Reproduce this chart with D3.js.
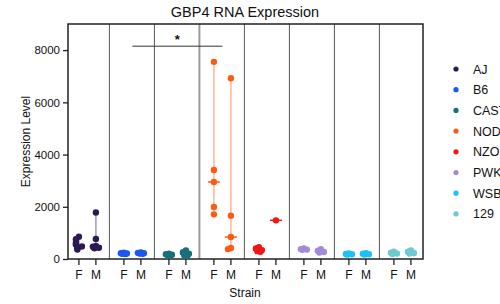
<!DOCTYPE html>
<html>
<head>
<meta charset="utf-8">
<script src="https://cdn.jsdelivr.net/npm/d3@7"></script>
<style>
  body { margin: 0; background: #fff; }
  text { font-family: "Liberation Sans", Arial, sans-serif; fill: #111; }
</style>
</head>
<body>
<svg id="chart" width="500" height="304"></svg>
<script>
// strains and their colours
var strains = ["AJ", "B6", "CAST", "NOD", "NZO", "PWK", "WSB", "129"];
var colors = ["#2c1a55", "#1d57f0", "#17707a", "#ff5a12", "#f21414", "#a38ad6", "#1ec0f7", "#6fc9d0"];
var sexes = ["F", "M"];

// expression values, per strain: [female, male]
var ajValues = [[850, 760, 620, 560, 480, 440, 400, 360], [1780, 770, 500, 470, 430, 410]];
var b6Values = [[240, 220, 210, 200, 190], [250, 235, 220, 210, 200]];
var castValues = [[200, 180, 160, 150, 140], [330, 260, 200, 160, 130, 120]];
var nodValues = [[7550, 3410, 2950, 1990, 1710], [6920, 1660, 840, 420, 380]];
var nzoValues = [[450, 400, 340, 300, 280], [1480]];
var pwkValues = [[400, 380, 360, 350], [380, 320, 270, 250]];
var wsbValues = [[210, 190, 180, 170], [220, 200, 180, 170]];
var s129Values = [[280, 240, 210, 190], [330, 280, 230, 210]];
var allValues = [ajValues, b6Values, castValues, nodValues, nzoValues, pwkValues, wsbValues, s129Values];

var yTicks = [0, 2000, 4000, 6000, 8000];
var yMax = 9000;

// significance bar between B6 and NOD
var sigPair = ["B6", "NOD"];
var sigLevel = 8150;

function drawChart() {
  var svg = d3.select("#chart");
  var pLeft = 68, pRight = 423, pTop = 24, pBottom = 259;

  var x = d3.scalePoint()
      .domain(strains)
      .range([87.4, 402.4]);
  var sexOffset = d3.scalePoint().domain(sexes).range([-8.5, 8.5]);
  var y = d3.scaleLinear().domain([0, yMax]).range([pBottom, pTop]);

  // group separators
  strains.slice(0, -1).forEach(function (s, i) {
    var sx = x(s) + x.step() / 2 - 0.5;
    svg.append("line")
        .attr("x1", sx).attr("x2", sx)
        .attr("y1", pTop).attr("y2", pBottom)
        .attr("stroke", i === 2 ? "#9a9a9a" : "#555")
        .attr("stroke-width", i === 2 ? 2 : 1);
  });

  // frame
  svg.append("rect")
      .attr("x", pLeft).attr("y", pTop)
      .attr("width", pRight - pLeft).attr("height", pBottom - pTop)
      .attr("fill", "none").attr("stroke", "#222").attr("stroke-width", 1.5);

  // y axis
  var yAxis = svg.append("g")
      .attr("transform", "translate(" + pLeft + ",0)")
      .call(d3.axisLeft(y).tickValues(yTicks).tickSize(5).tickPadding(3).tickFormat(d3.format("d")));
  yAxis.select(".domain").remove();
  yAxis.selectAll("line").attr("stroke", "#222").attr("stroke-width", 1.3);
  yAxis.selectAll("text").attr("font-size", 11.5).attr("fill", "#111")
      .style("font-family", "Liberation Sans, Arial, sans-serif");

  // x ticks: F / M under every strain
  var cats = [];
  strains.forEach(function (s) { sexes.forEach(function (g) { cats.push({ strain: s, sex: g }); }); });
  var xt = svg.append("g").selectAll("g").data(cats).enter().append("g")
      .attr("transform", function (d) { return "translate(" + (x(d.strain) + sexOffset(d.sex)) + "," + pBottom + ")"; });
  xt.append("line").attr("y1", 0).attr("y2", 6).attr("stroke", "#222").attr("stroke-width", 1.3);
  xt.append("text").attr("y", 20).attr("text-anchor", "middle").attr("font-size", 12)
      .text(function (d) { return d.sex; });

  // points, range lines and medians
  var jit = [0, -3, 3, -1.5, 1.5, -4, 4, 0];
  strains.forEach(function (s, i) {
    var col = colors[i];
    var light = d3.interpolateRgb(col, "#fff")(0.55);
    sexes.forEach(function (g, j) {
      var vals = allValues[i][j];
      var cx = x(s) + sexOffset(g);
      var g0 = svg.append("g");
      g0.append("line")
          .attr("x1", cx).attr("x2", cx)
          .attr("y1", y(d3.min(vals))).attr("y2", y(d3.max(vals)))
          .attr("stroke", light).attr("stroke-width", 1.5);
      // spread only the points that sit on top of each other
      var placed = [];
      var offs = vals.map(function (v) {
        var n = placed.filter(function (p) { return Math.abs(y(p) - y(v)) < 5; }).length;
        placed.push(v);
        return jit[n % jit.length];
      });
      g0.selectAll("circle").data(vals).enter().append("circle")
          .attr("cx", function (d, k) { return cx + offs[k]; })
          .attr("cy", function (d) { return y(d); })
          .attr("r", 3.2)
          .attr("fill", col);
      var med = d3.median(vals);
      g0.append("line")
          .attr("x1", cx - 6).attr("x2", cx + 6)
          .attr("y1", y(med)).attr("y2", y(med))
          .attr("stroke", col).attr("stroke-width", 1.5);
    });
  });

  // significance bar
  svg.append("line")
      .attr("x1", x(sigPair[0])).attr("x2", x(sigPair[1]))
      .attr("y1", y(sigLevel)).attr("y2", y(sigLevel))
      .attr("stroke", "#333").attr("stroke-width", 1);
  svg.append("text")
      .attr("x", (x(sigPair[0]) + x(sigPair[1])) / 2)
      .attr("y", y(sigLevel) - 2)
      .attr("text-anchor", "middle").attr("font-size", 13).attr("font-weight", "bold")
      .text("*");

  // titles
  svg.append("text").attr("x", 245).attr("y", 17).attr("text-anchor", "middle")
      .attr("font-size", 14.5).text("GBP4 RNA Expression");
  svg.append("text").attr("x", 245).attr("y", 297).attr("text-anchor", "middle")
      .attr("font-size", 12).text("Strain");
  svg.append("text").attr("transform", "translate(30," + ((pTop + pBottom) / 2) + ") rotate(-90)")
      .attr("text-anchor", "middle").attr("font-size", 12).text("Expression Level");

  // legend
  var leg = svg.append("g").selectAll("g").data(strains).enter().append("g")
      .attr("transform", function (d, i) { return "translate(456," + (69 + i * 20.7) + ")"; });
  leg.append("circle").attr("r", 2.6).attr("fill", function (d, i) { return colors[i]; });
  leg.append("text").attr("x", 17).attr("y", 4.5).attr("font-size", 12.5).text(function (d) { return d; });
}

drawChart();
</script>
</body>
</html>
